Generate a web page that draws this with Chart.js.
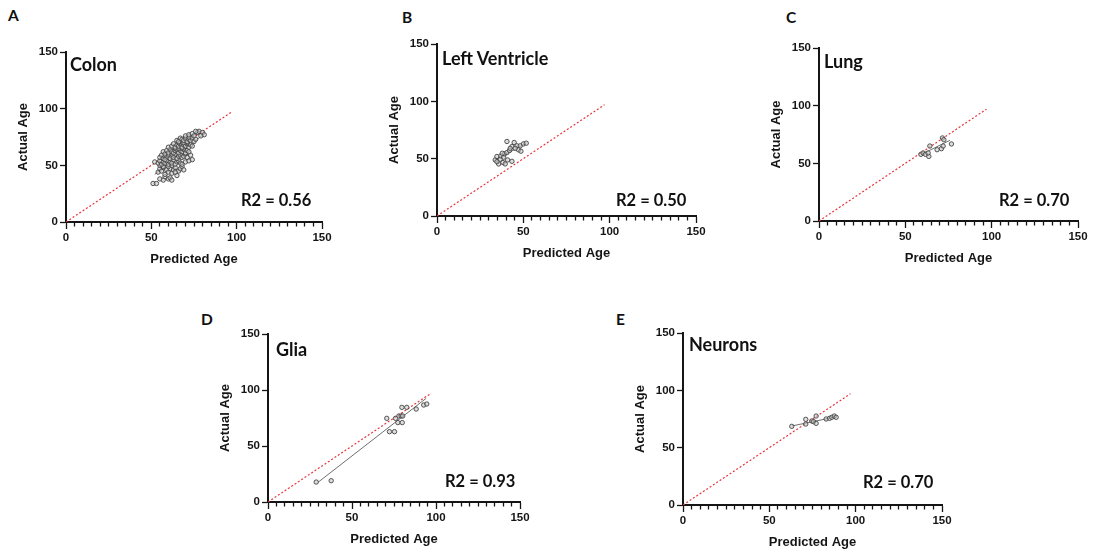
<!DOCTYPE html>
<html>
<head>
<meta charset="utf-8">
<script src="https://cdn.jsdelivr.net/npm/chart.js@4.4.1/dist/chart.umd.min.js"></script>
<style>
  body { margin: 0; background: #fff; }
  #page { position: relative; width: 1104px; height: 556px; overflow: hidden; }
  canvas { position: absolute; }
  .lbl { position: absolute; font-family: Lato, "Open Sans", sans-serif; font-weight: 700; line-height: 1; color: #111; white-space: nowrap; }
  .letter { font-size: 15.5px; }
  .tissue { font-size: 18px; }
  .r2 { font-size: 16.5px; }
</style>
</head>
<body>
<div id="page">
  <canvas id="colon" width="322" height="228"></canvas>
  <canvas id="ventricle" width="325" height="230"></canvas>
  <canvas id="lung" width="325" height="231"></canvas>
  <canvas id="glia" width="318" height="226"></canvas>
  <canvas id="neurons" width="325" height="230"></canvas>

  <div class="lbl letter" style="left:8px;top:7.5px">A</div>
  <div class="lbl letter" style="left:402px;top:10px">B</div>
  <div class="lbl letter" style="left:786px;top:9.5px">C</div>
  <div class="lbl letter" style="left:201px;top:311.5px">D</div>
  <div class="lbl letter" style="left:616px;top:311.5px">E</div>

  <div class="lbl tissue" style="left:70px;top:55px">Colon</div>
  <div class="lbl tissue" style="left:442px;top:48.7px">Left Ventricle</div>
  <div class="lbl tissue" style="left:824px;top:52px">Lung</div>
  <div class="lbl tissue" style="left:276px;top:340.3px">Glia</div>
  <div class="lbl tissue" style="left:689px;top:335.3px">Neurons</div>

  <div class="lbl r2" style="left:241px;top:192.2px">R2 = 0.56</div>
  <div class="lbl r2" style="left:616px;top:192.2px">R2 = 0.50</div>
  <div class="lbl r2" style="left:999px;top:192.2px">R2 = 0.70</div>
  <div class="lbl r2" style="left:445px;top:473px">R2 = 0.93</div>
  <div class="lbl r2" style="left:863px;top:474px">R2 = 0.70</div>
</div>
<script>
// predicted vs actual age per tissue
const colonPredicted = [51,53,55,57,58,60,61,62,54,55,56,57,58,59,60,61,62,63,64,65,66,67,68,55,57,60,62,64,69,
  52,54,55,56,57,58,59,60,61,62,63,64,65,66,67,68,70,72,74,
  55,56,57,58,59,60,61,62,63,64,65,66,67,68,69,70,71,73,58,62,
  57,58,59,60,61,62,63,64,65,66,67,68,69,70,71,72,64,66,68,
  60,62,63,64,65,66,67,68,69,70,71,72,73,74,66,69,71,
  65,66,67,68,69,70,71,72,73,74,75,76,72,70,
  72,74,75,77,78,80,81,76,79];
const colonActual = [34,34,38,37,40,38,39,37,44,47,45,48,42,46,44,47,43,46,48,41,45,47,49,50,49,49,50,44,46,
  53,52,54,51,53,52,54,51,53,52,55,51,53,54,52,51,53,54,55,
  57,59,56,58,57,59,56,58,57,60,56,58,59,57,58,60,57,59,55,60,
  62,60,63,61,64,62,61,63,64,61,63,62,64,61,63,62,65,65,65,
  66,67,69,66,68,67,69,66,68,67,69,66,68,67,70,70,70,
  72,71,74,73,72,74,71,73,72,74,71,73,75,76,
  77,78,76,79,80,79,77,80,76];
const colonFitX = [52, 81];
const colonFitY = [42, 78];

const ventriclePredicted = [33.7,34.7,35.7,36.6,37,38.2,38.6,39.1,39.5,40.5,40.9,42,43.4,40.5,43.4,44.7,46.3,47.2,48.2,50.1,51.7,48.6,34.7,37.8,42.4,45.3];
const ventricleActual = [48.9,51.9,45.4,49.5,52.4,46.6,51.3,54.2,45.4,55.3,48.9,57.1,47.7,65,60.6,64.1,61.2,57.7,61.2,62.9,63.5,56.5,47.4,54.7,59,59];
const ventricleFitX = [34, 51];
const ventricleFitY = [49, 63];

const lungPredicted = [59,60.3,61.7,63.6,64.2,63.2,68.4,70.9,71.9,71.5,72.3,76.7];
const lungActual = [57.8,59,57.8,56,65,59,61.8,62.7,65,72,70.5,66.8];
const lungFitX = [59.4, 75.8];
const lungFitY = [57.8, 70];

const gliaPredicted = [28.7,37.6,70.7,72.3,75.3,75.9,77.3,77.9,79.3,79.9,80.2,79.7,82.6,88.2,92.7,94.5];
const gliaActual = [17.8,19,74.7,62.8,62.8,74.7,70.9,76.8,76.8,70.9,76.8,84.5,84.5,83,86.6,87.5];
const gliaFitX = [29.7, 94.1];
const gliaFitY = [17.5, 92.5];

const neuronsPredicted = [63,71.1,71.1,74.6,75.6,77.1,77.1,82.9,84.9,86.2,87.6,88.7];
const neuronsActual = [68.6,74.7,70.6,73.3,72.7,77.6,71.2,75,75.6,76.5,77.6,76.5];
const neuronsFitX = [63, 89];
const neuronsFitY = [68.9, 77];

// y = x reference line
const identityX = [0, 97];
const identityY = [0, 97];

const axisTicks = [0, 50, 100, 150];

// plot areas (left, top, width, height) of each panel on the page
const panels = [
  { id: 'colon', left: 66, top: 52, w: 256, h: 170, x: colonPredicted, y: colonActual, fx: colonFitX, fy: colonFitY },
  { id: 'ventricle', left: 437, top: 44, w: 259, h: 172, x: ventriclePredicted, y: ventricleActual, fx: ventricleFitX, fy: ventricleFitY },
  { id: 'lung', left: 819, top: 48, w: 259, h: 173, x: lungPredicted, y: lungActual, fx: lungFitX, fy: lungFitY },
  { id: 'glia', left: 268, top: 334, w: 252, h: 168, x: gliaPredicted, y: gliaActual, fx: gliaFitX, fy: gliaFitY },
  { id: 'neurons', left: 683, top: 333, w: 259, h: 172, x: neuronsPredicted, y: neuronsActual, fx: neuronsFitX, fy: neuronsFitY }
];

const Y_AXIS_W = 50;
const X_AXIS_H = 46;
const PAD_TOP = 12;
const PAD_RIGHT = 16;
const ink = '#151515';
const tickFont = { family: '"Liberation Sans", Arial, sans-serif', size: 11.5, weight: 'bold' };
const titleFont = { family: '"Liberation Sans", Arial, sans-serif', size: 13, weight: 'bold' };

const toPoints = (xs, ys) => xs.map((x, i) => ({ x: x, y: ys[i] }));

function drawPanel(p) {
  const canvas = document.getElementById(p.id);
  canvas.width = Y_AXIS_W + p.w + PAD_RIGHT;
  canvas.height = PAD_TOP + p.h + X_AXIS_H;
  canvas.style.left = (p.left - Y_AXIS_W) + 'px';
  canvas.style.top = (p.top - PAD_TOP) + 'px';

  new Chart(canvas.getContext('2d'), {
    type: 'scatter',
    data: {
      datasets: [{
        data: toPoints(p.x, p.y),
        pointRadius: 2.2,
        pointBorderWidth: 0.9,
        borderColor: '#444',
        backgroundColor: 'rgba(200,200,200,0.6)'
      }, {
        type: 'line',
        data: toPoints(p.fx, p.fy),
        borderColor: '#6e6e6e',
        borderWidth: 1,
        pointRadius: 0,
        fill: false
      }, {
        type: 'line',
        data: toPoints(identityX, identityY),
        borderColor: '#e8343b',
        borderWidth: 1.2,
        borderDash: [2, 2],
        pointRadius: 0,
        fill: false
      }]
    },
    options: {
      responsive: false,
      animation: false,
      layout: { padding: { top: PAD_TOP, right: PAD_RIGHT, left: 0, bottom: 0 } },
      plugins: { legend: { display: false }, tooltip: { enabled: false } },
      scales: {
        x: {
          type: 'linear',
          min: 0,
          max: 150,
          afterFit: (scale) => { scale.height = X_AXIS_H; },
          ticks: {
            stepSize: 5,
            autoSkip: false,
            maxRotation: 0,
            padding: 2,
            color: ink,
            font: tickFont,
            callback: (v) => axisTicks.includes(v) ? v : ''
          },
          grid: {
            drawOnChartArea: false,
            tickLength: 7,
            tickWidth: 1.3,
            tickColor: ink,
            // short minor ticks every 5, full length at 0/50/100/150
            tickBorderDash: (ctx) => (ctx.tick && ctx.tick.value % 50 === 0) ? [] : [3.5, 40]
          },
          border: { display: true, width: 2, color: ink },
          title: { display: true, text: 'Predicted Age', color: ink, font: titleFont, padding: { top: 0, bottom: 1 } }
        },
        y: {
          type: 'linear',
          min: 0,
          max: 150,
          afterFit: (scale) => { scale.width = Y_AXIS_W; },
          ticks: { stepSize: 50, padding: 2, color: ink, font: tickFont },
          grid: { drawOnChartArea: false, tickLength: 6, tickWidth: 1.3, tickColor: ink },
          border: { display: true, width: 2, color: ink },
          title: { display: true, text: 'Actual Age', color: ink, font: titleFont, padding: { top: 0, bottom: 0 } }
        }
      }
    }
  });
}

panels.forEach(drawPanel);
</script>
</body>
</html>
